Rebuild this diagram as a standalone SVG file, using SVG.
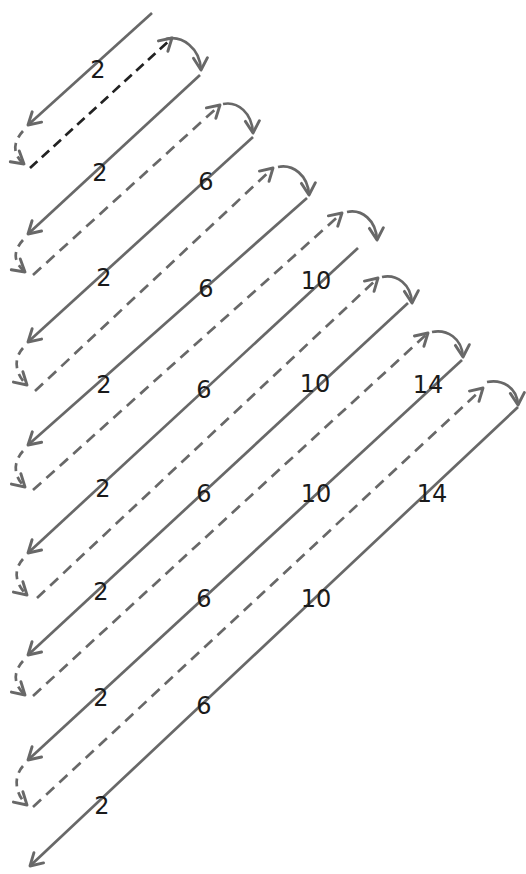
<svg xmlns="http://www.w3.org/2000/svg" width="526" height="874" viewBox="0 0 526 874">
<style>
.solid{fill:none;stroke:#686868;stroke-width:2.7;marker-end:url(#ah)}
.dash{fill:none;stroke:#686868;stroke-width:2.7;stroke-dasharray:11 7;marker-end:url(#ah)}
.dashk{fill:none;stroke:#222;stroke-width:2.7;stroke-dasharray:10 6;marker-end:url(#ah)}
.small{fill:none;stroke:#686868;stroke-width:2.7;stroke-dasharray:8 6;marker-end:url(#ah)}
.curve{fill:none;stroke:#686868;stroke-width:2.7;marker-end:url(#ah)}
.lbl{font-family:"DejaVu Sans",sans-serif;font-size:24px;fill:#1a1a1a;text-anchor:middle}
</style>
<defs>
<marker id="ah" markerUnits="userSpaceOnUse" viewBox="-16 -10 20 20" markerWidth="20" markerHeight="20" refX="0" refY="0" orient="auto" overflow="visible">
<path d="M-12,-7 L0,0 L-12,7" fill="none" stroke="#686868" stroke-width="2.9" stroke-linecap="round" stroke-linejoin="round" stroke-dasharray="none"/>
</marker>
</defs>
<rect width="526" height="874" fill="#fff"/>
<g id="connectors">
<path class="solid" d="M152,13 L28,125"/>
<path class="solid" d="M200,75 L28,234"/>
<path class="solid" d="M253,137 L28,342"/>
<path class="solid" d="M307,198 L28,445"/>
<path class="solid" d="M358,248 L28,553"/>
<path class="solid" d="M408,303 L28,655"/>
<path class="solid" d="M462,360 L28,760"/>
<path class="solid" d="M518,407 L30,866"/>
<path class="dashk" d="M30,168 L172,38"/>
<path class="dash" d="M33,275 L220,105"/>
<path class="dash" d="M35,391 L273,168"/>
<path class="dash" d="M33,490 L342,213"/>
<path class="dash" d="M37,598 L378,278"/>
<path class="dash" d="M33,696 L428,333"/>
<path class="dash" d="M33,807 L483,388"/>
<path class="small" d="M23,131 C13,142 12,154 24,164"/>
<path class="small" d="M23,240 C13,251 13,262 25,272"/>
<path class="small" d="M23,348 C13,359 15,374 27,385"/>
<path class="small" d="M23,451 C13,462 13,476 25,487"/>
<path class="small" d="M23,559 C13,570 15,584 27,595"/>
<path class="small" d="M23,661 C13,672 13,684 25,695"/>
<path class="small" d="M23,766 C13,777 15,794 27,805"/>
<path class="curve" d="M166,39 C182,35 200,48 201,70"/>
<path class="curve" d="M223,104 C238,101 252,113 253,133"/>
<path class="curve" d="M278,167 C293,164 308,175 309,195"/>
<path class="curve" d="M347,212 C362,209 376,220 377,240"/>
<path class="curve" d="M382,277 C397,274 411,284 412,303"/>
<path class="curve" d="M432,332 C447,329 462,338 463,357"/>
<path class="curve" d="M487,382 C502,379 517,387 518,405"/>
</g>
<g id="labels">
<g id="r1"><text class="lbl" x="98" y="78">2</text></g>
<g id="r2"><text class="lbl" x="100" y="181">2</text><text class="lbl" x="206" y="190">6</text></g>
<g id="r3"><text class="lbl" x="104" y="286">2</text><text class="lbl" x="206" y="297">6</text><text class="lbl" x="316" y="289">10</text></g>
<g id="r4"><text class="lbl" x="104" y="393">2</text><text class="lbl" x="204" y="398">6</text><text class="lbl" x="315" y="392">10</text><text class="lbl" x="428" y="393">14</text></g>
<g id="r5"><text class="lbl" x="103" y="497">2</text><text class="lbl" x="204" y="502">6</text><text class="lbl" x="316" y="502">10</text><text class="lbl" x="432" y="502">14</text></g>
<g id="r6"><text class="lbl" x="101" y="600">2</text><text class="lbl" x="204" y="607">6</text><text class="lbl" x="316" y="607">10</text></g>
<g id="r7"><text class="lbl" x="101" y="706">2</text><text class="lbl" x="204" y="714">6</text></g>
<g id="r8"><text class="lbl" x="102" y="814">2</text></g>
</g>
</svg>
